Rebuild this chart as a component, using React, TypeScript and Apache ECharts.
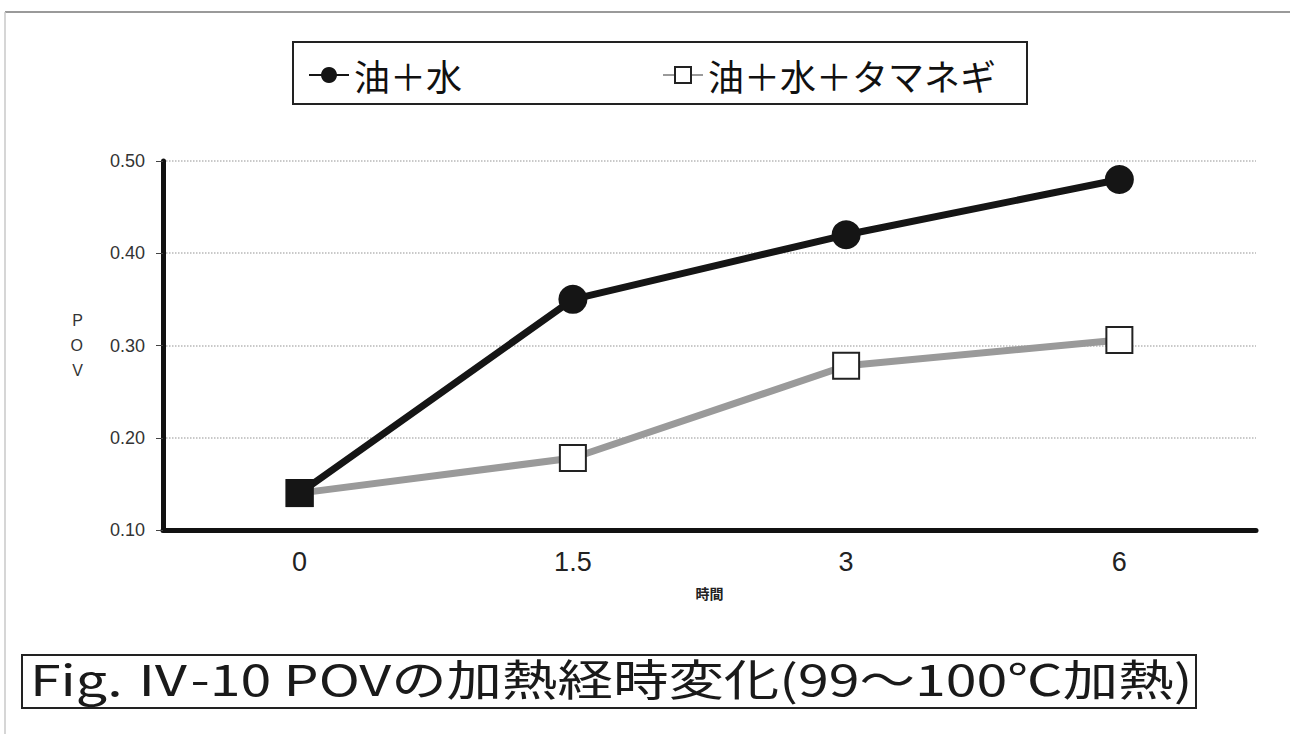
import React, { useEffect, useRef } from "react";
import * as echarts from "echarts";

const hours = ["0", "1.5", "3", "6"];
const oilWater = [0.14, 0.35, 0.42, 0.48];
const oilWaterOnion = [0.14, 0.178, 0.278, 0.306];
const yTicks = [0.1, 0.5, 0.1];
const seriesNames = ["油＋水", "油＋水＋タマネギ"];
const caption = "Fig. Ⅳ-10 POVの加熱経時変化(99～100℃加熱)";

const FONT = "'Noto Sans CJK JP', 'Noto Sans', sans-serif";
const LABEL_FONT = "'Liberation Sans', 'DejaVu Sans', sans-serif";

export default function App() {
  const ref = useRef<HTMLDivElement>(null);

  useEffect(() => {
    if (!ref.current) return;
    const chart = echarts.init(ref.current, undefined, { renderer: "svg" });
    chart.setOption({
      animation: false,
      backgroundColor: "#ffffff",
      textStyle: { fontFamily: FONT },
      grid: { left: 163, right: 34, top: 161, bottom: 204 },
      legend: {
        left: 303,
        top: 52,
        itemGap: 200,
        itemWidth: 40,
        itemHeight: 20,
        textStyle: { fontSize: 36, color: "#111", fontFamily: FONT },
        data: [{ name: seriesNames[0] }, { name: seriesNames[1] }],
      },
      xAxis: {
        type: "category",
        data: hours,
        boundaryGap: true,
        name: "時間",
        nameLocation: "middle",
        nameGap: 56,
        nameTextStyle: { fontSize: 14, fontWeight: "bold", color: "#222" },
        axisLine: { lineStyle: { color: "#111", width: 5 } },
        axisTick: { show: false },
        axisLabel: { fontSize: 27, color: "#222", margin: 18, fontFamily: LABEL_FONT },
      },
      yAxis: {
        type: "value",
        min: yTicks[0],
        max: yTicks[1],
        interval: yTicks[2],
        name: "P\nO\nV",
        nameLocation: "middle",
        nameRotate: 0,
        nameGap: 80,
        nameTextStyle: { fontSize: 16, color: "#333", lineHeight: 25, fontFamily: LABEL_FONT },
        axisLine: { show: true, lineStyle: { color: "#111", width: 5 } },
        axisTick: { show: true, length: 7, lineStyle: { color: "#444", width: 1 } },
        axisLabel: {
          fontSize: 18,
          color: "#333",
          margin: 18,
          fontFamily: LABEL_FONT,
          formatter: (v: number) => v.toFixed(2),
        },
        splitLine: {
          show: true,
          lineStyle: { color: "#b8b8b8", type: "dotted", width: 1.5 },
        },
      },
      series: [
        {
          name: seriesNames[1],
          type: "line",
          data: oilWaterOnion,
          z: 2,
          symbol: "rect",
          symbolSize: 26,
          lineStyle: { color: "#9a9a9a", width: 7 },
          itemStyle: { color: "#ffffff", borderColor: "#222", borderWidth: 2 },
        },
        {
          name: seriesNames[0],
          type: "line",
          data: oilWater.map((v, i) =>
            i === 0 ? { value: v, symbol: "rect", symbolSize: 28 } : { value: v }
          ),
          z: 3,
          symbol: "circle",
          symbolSize: 29,
          lineStyle: { color: "#151515", width: 7 },
          itemStyle: { color: "#151515" },
        },
      ],
      graphic: [
        // outer page frame
        { type: "line", shape: { x1: 5, y1: 12, x2: 1290, y2: 12 }, style: { stroke: "#9a9a9a", lineWidth: 2 } },
        { type: "line", shape: { x1: 5, y1: 12, x2: 5, y2: 734 }, style: { stroke: "#c8c8c8", lineWidth: 1.5 } },
        // legend frame
        {
          type: "rect",
          shape: { x: 293, y: 42, width: 734, height: 62 },
          style: { fill: "none", stroke: "#222", lineWidth: 2 },
        },
        // caption frame and caption
        {
          type: "rect",
          shape: { x: 22, y: 655, width: 1174, height: 53 },
          style: { fill: "none", stroke: "#222", lineWidth: 2 },
        },
        {
          type: "text",
          x: 30,
          y: 677,
          scaleX: 1.29,
          style: {
            text: caption,
            fontSize: 43,
            fontFamily: FONT,
            fill: "#1a1a1a",
            textVerticalAlign: "middle",
          },
        },
      ],
    });
    return () => chart.dispose();
  }, []);

  return (
    <div
      ref={ref}
      style={{ position: "fixed", left: 0, top: 0, width: 1290, height: 734 }}
    />
  );
}
